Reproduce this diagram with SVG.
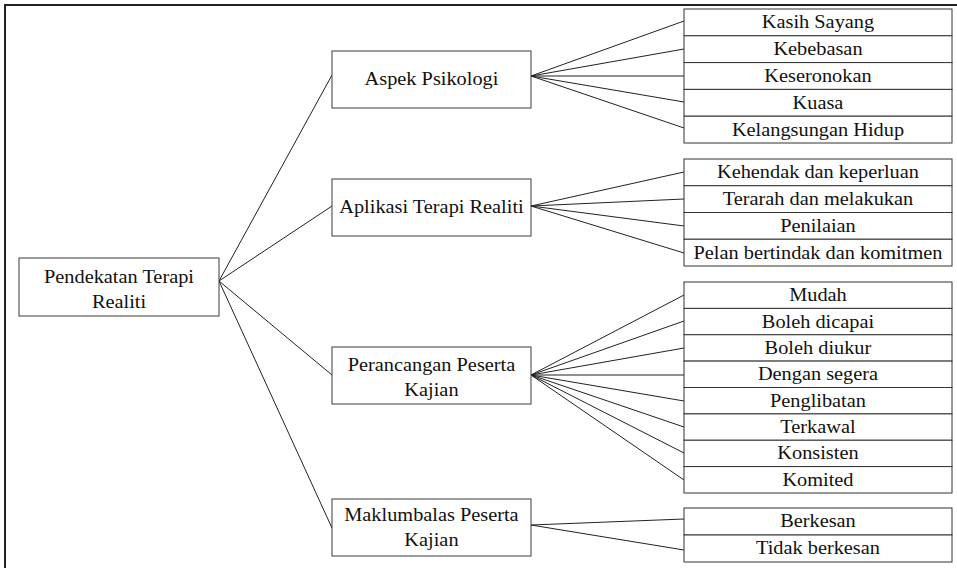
<svg xmlns="http://www.w3.org/2000/svg" width="957" height="568" viewBox="0 0 957 568">
<style>
  .bg { fill: #ffffff; }
  .frame { fill: none; stroke: #222; stroke-width: 2; }
  .box { fill: #ffffff; stroke: #3a3a3a; stroke-width: 1; }
  .leaf { fill: #ffffff; stroke: #333; stroke-width: 1; }
  .conn line { stroke: #222; stroke-width: 1; }
  text { font-family: "Liberation Serif", "Times New Roman", serif; font-size: 18px; fill: #111; text-anchor: middle; transform-box: fill-box; transform-origin: center; transform: scaleX(1.13); }
</style>
<rect class="bg" x="0" y="0" width="957" height="568"/>
<path class="frame" d="M5,568 V5 H957"/>

<g id="connectors" class="conn">
  <line x1="219" y1="281" x2="332" y2="75"/>
  <line x1="219" y1="281" x2="332" y2="206"/>
  <line x1="219" y1="281" x2="332" y2="375"/>
  <line x1="219" y1="281" x2="332" y2="528"/>

  <line x1="531" y1="76" x2="684" y2="21"/>
  <line x1="531" y1="76" x2="684" y2="49"/>
  <line x1="531" y1="76" x2="684" y2="76"/>
  <line x1="531" y1="76" x2="684" y2="102"/>
  <line x1="531" y1="76" x2="684" y2="128"/>

  <line x1="531" y1="206" x2="684" y2="172"/>
  <line x1="531" y1="206" x2="684" y2="199"/>
  <line x1="531" y1="206" x2="684" y2="226"/>
  <line x1="531" y1="206" x2="684" y2="253"/>

  <line x1="531" y1="375" x2="684" y2="295"/>
  <line x1="531" y1="375" x2="684" y2="321"/>
  <line x1="531" y1="375" x2="684" y2="348"/>
  <line x1="531" y1="375" x2="684" y2="375"/>
  <line x1="531" y1="375" x2="684" y2="401"/>
  <line x1="531" y1="375" x2="684" y2="427"/>
  <line x1="531" y1="375" x2="684" y2="453"/>
  <line x1="531" y1="375" x2="684" y2="480"/>

  <line x1="531" y1="525" x2="684" y2="519"/>
  <line x1="531" y1="525" x2="684" y2="550"/>
</g>

<g id="root">
  <rect class="box" x="19" y="258" width="200" height="58"/>
  <text x="119" y="283">Pendekatan Terapi</text>
  <text x="119" y="308">Realiti</text>
</g>

<g id="aspek-psikologi">
  <rect class="box" x="332" y="51" width="199" height="57"/>
  <text x="431.5" y="85">Aspek Psikologi</text>
</g>
<g id="aplikasi-terapi">
  <rect class="box" x="332" y="179" width="199" height="57"/>
  <text x="431.5" y="213">Aplikasi Terapi Realiti</text>
</g>
<g id="perancangan">
  <rect class="box" x="332" y="347" width="199" height="57"/>
  <text x="431.5" y="371.5">Perancangan Peserta</text>
  <text x="431.5" y="396.5">Kajian</text>
</g>
<g id="maklumbalas">
  <rect class="box" x="332" y="499" width="199" height="57"/>
  <text x="431.5" y="521">Maklumbalas Peserta</text>
  <text x="431.5" y="546.5">Kajian</text>
</g>

<g id="kasih-sayang"><rect class="leaf" x="684" y="9" width="268" height="26.8"/><text x="818" y="28.4">Kasih Sayang</text></g>
<g id="kebebasan"><rect class="leaf" x="684" y="35.8" width="268" height="26.8"/><text x="818" y="55.2">Kebebasan</text></g>
<g id="keseronokan"><rect class="leaf" x="684" y="62.6" width="268" height="26.8"/><text x="818" y="82">Keseronokan</text></g>
<g id="kuasa"><rect class="leaf" x="684" y="89.4" width="268" height="26.8"/><text x="818" y="108.8">Kuasa</text></g>
<g id="kelangsungan-hidup"><rect class="leaf" x="684" y="116.2" width="268" height="26.8"/><text x="818" y="135.6">Kelangsungan Hidup</text></g>

<g id="kehendak"><rect class="leaf" x="684" y="159" width="268" height="26.75"/><text x="818" y="178.4">Kehendak dan keperluan</text></g>
<g id="terarah"><rect class="leaf" x="684" y="185.75" width="268" height="26.75"/><text x="818" y="205.1">Terarah dan melakukan</text></g>
<g id="penilaian"><rect class="leaf" x="684" y="212.5" width="268" height="26.75"/><text x="818" y="231.9">Penilaian</text></g>
<g id="pelan"><rect class="leaf" x="684" y="239.25" width="268" height="26.75"/><text x="818" y="258.6">Pelan bertindak dan komitmen</text></g>

<g id="mudah"><rect class="leaf" x="684" y="282" width="268" height="26.4"/><text x="818" y="301.2">Mudah</text></g>
<g id="boleh-dicapai"><rect class="leaf" x="684" y="308.4" width="268" height="26.35"/><text x="818" y="327.6">Boleh dicapai</text></g>
<g id="boleh-diukur"><rect class="leaf" x="684" y="334.75" width="268" height="26.35"/><text x="818" y="353.9">Boleh diukur</text></g>
<g id="dengan-segera"><rect class="leaf" x="684" y="361.1" width="268" height="26.4"/><text x="818" y="380.3">Dengan segera</text></g>
<g id="penglibatan"><rect class="leaf" x="684" y="387.5" width="268" height="26.4"/><text x="818" y="406.7">Penglibatan</text></g>
<g id="terkawal"><rect class="leaf" x="684" y="413.9" width="268" height="26.35"/><text x="818" y="433.1">Terkawal</text></g>
<g id="konsisten"><rect class="leaf" x="684" y="440.25" width="268" height="26.35"/><text x="818" y="459.4">Konsisten</text></g>
<g id="komited"><rect class="leaf" x="684" y="466.6" width="268" height="26.4"/><text x="818" y="485.8">Komited</text></g>

<g id="berkesan"><rect class="leaf" x="684" y="508" width="268" height="27"/><text x="818" y="527.5">Berkesan</text></g>
<g id="tidak-berkesan"><rect class="leaf" x="684" y="535" width="268" height="27"/><text x="818" y="554.5">Tidak berkesan</text></g>
</svg>
